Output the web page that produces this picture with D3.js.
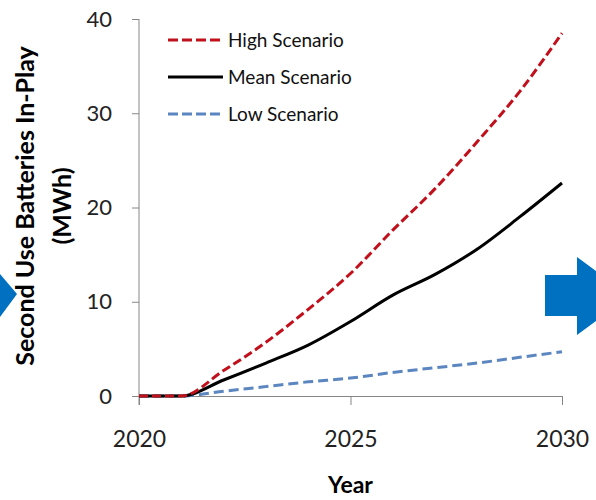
<!DOCTYPE html>
<html>
<head>
<meta charset="utf-8">
<script src="https://cdn.jsdelivr.net/npm/d3@7"></script>
<style>
  body { margin: 0; background: #fff; }
  text { font-family: Lato, "Open Sans", sans-serif; }
</style>
</head>
<body>
<div id="chart"></div>
<script>
// Chart data
const years = [2020, 2021, 2022, 2023, 2024, 2025, 2026, 2027, 2028, 2029, 2030]
const highValues = [0, 0, 2.7, 5.7, 9.2, 13.0, 17.6, 22.0, 27.0, 32.3, 38.5]
const meanValues = [0, 0, 1.7, 3.5, 5.4, 7.9, 10.7, 12.9, 15.6, 19.0, 22.6]
const lowValues = [0, 0, 0.5, 1.0, 1.5, 1.9, 2.5, 3.0, 3.5, 4.1, 4.7]
const seriesNames = ["High Scenario", "Mean Scenario", "Low Scenario"]
const xTicks = [2020, 2025, 2030]
const yTicks = [0, 10, 20, 30, 40]

// Chart parameters
const WIDTH = 596
const HEIGHT = 500
const PLOT = {LEFT: 139, RIGHT: 562, TOP: 19, BOTTOM: 396}
const AXIS_COLOUR = "#868686"
const BLUE = "#0070C0"

const series = [
    {name: seriesNames[0], values: highValues, colour: "#C0101C", dash: "9,4"},
    {name: seriesNames[1], values: meanValues, colour: "#000000", dash: null},
    {name: seriesNames[2], values: lowValues, colour: "#5B86C0", dash: "10,5"}
]

let svg = d3.select("#chart").append("svg")
    .attr("width", WIDTH)
    .attr("height", HEIGHT)

// Blue arrows (decoration from the slide)
svg.append("path")
    .attr("d", "M0,274 L17,294 L0,317 Z")
    .attr("fill", BLUE)
svg.append("path")
    .attr("d", "M545,275 L577,275 L577,257 L630,296 L577,335 L577,316 L545,316 Z")
    .attr("fill", BLUE)

let xScale = d3.scaleLinear()
    .domain([2020, 2030])
    .range([PLOT.LEFT, PLOT.RIGHT])

let yScale = d3.scaleLinear()
    .domain([0, 40])
    .range([PLOT.BOTTOM, PLOT.TOP])

// x axis
let xAxis = svg.append("g")
    .attr("transform", "translate(0," + PLOT.BOTTOM + ")")
    .call(d3.axisBottom(xScale).tickValues(xTicks).tickFormat(d3.format("d")).tickSizeOuter(0).tickSize(9).tickPadding(26))
xAxis.select(".domain").attr("stroke", AXIS_COLOUR)
xAxis.selectAll(".tick line").attr("stroke", AXIS_COLOUR)
xAxis.selectAll(".tick text")
    .attr("fill", "#222")
    .style("font-size", "23px")

// y axis
let yAxis = svg.append("g")
    .attr("transform", "translate(" + PLOT.LEFT + ",0)")
    .call(d3.axisLeft(yScale).tickValues(yTicks).tickSizeOuter(0).tickSize(7).tickPadding(20))
yAxis.select(".domain").attr("stroke", AXIS_COLOUR)
    .attr("d", "M0," + PLOT.TOP + "V" + (PLOT.BOTTOM + 9))
yAxis.selectAll(".tick line").attr("stroke", AXIS_COLOUR)
yAxis.selectAll(".tick text")
    .attr("fill", "#222")
    .style("font-size", "22px")

// Lines
let line = d3.line()
    .x((d, i) => xScale(years[i]))
    .y(d => yScale(d))
    .curve(d3.curveMonotoneX)

// draw low first so high / mean sit on top
series.slice().reverse().forEach(s => {
    svg.append("path")
        .datum(s.values)
        .attr("d", line)
        .attr("fill", "none")
        .attr("stroke", s.colour)
        .attr("stroke-width", 3)
        .attr("stroke-dasharray", s.dash)
})

// Legend
let legend = svg.append("g")
series.forEach((s, i) => {
    let y = 40 + i * 37
    legend.append("line")
        .attr("x1", 168).attr("x2", 223)
        .attr("y1", y).attr("y2", y)
        .attr("stroke", s.colour)
        .attr("stroke-width", 3)
        .attr("stroke-dasharray", s.dash ? "10,4" : null)
    legend.append("text")
        .attr("x", 228)
        .attr("y", y)
        .attr("dy", "0.35em")
        .style("font-size", "19px")
        .attr("fill", "#111")
        .text(s.name)
})

// Axis titles
svg.append("text")
    .attr("x", xScale(2025))
    .attr("y", 493)
    .attr("text-anchor", "middle")
    .style("font-size", "23px")
    .style("font-weight", "bold")
    .text("Year")

let yTitle = svg.append("text")
    .attr("transform", "translate(34,206) rotate(-90)")
    .attr("text-anchor", "middle")
    .style("font-size", "25px")
    .style("font-weight", "bold")
yTitle.append("tspan").attr("x", 0).attr("y", 0).text("Second Use Batteries In-Play")
yTitle.append("tspan").attr("x", 0).attr("y", 37).text("(MWh)")
</script>
</body>
</html>
